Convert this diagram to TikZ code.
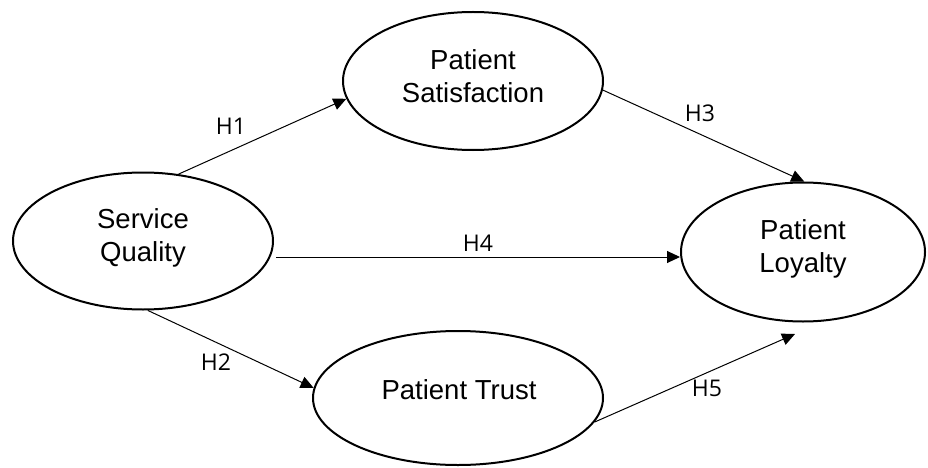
\documentclass[tikz,border=0pt]{standalone}
\usepackage{fontspec}
\setmainfont{Liberation Sans}
\newfontfamily\labfont{Open Sans}
\usetikzlibrary{shapes.geometric,arrows.meta}
\begin{document}
\begin{tikzpicture}[x=1pt,y=-1pt,
  construct/.style={draw, line width=2pt, ellipse, inner sep=0pt},
  ctext/.style={align=center, inner sep=0pt, font=\fontsize{27.5}{33}\selectfont},
  link/.style={line width=1pt, -{Triangle[length=13pt,width=12pt]}},
  hyp/.style={font=\labfont\fontsize{23}{26}\selectfont, inner sep=0pt}]
\useasboundingbox (0,0) rectangle (928,468);
\node[construct, minimum width=260pt, minimum height=137pt] (sq) at (143,241) {};
\node[construct, minimum width=260pt, minimum height=138pt] (ps) at (473,81) {};
\node[construct, minimum width=244pt, minimum height=139pt] (pl) at (803,252) {};
\node[construct, minimum width=290pt, minimum height=134pt] (pt) at (458,398) {};
\node[ctext] (sqt) at (143,238) {Service\\Quality};
\node[ctext] (pst) at (473,76) {Patient\\Satisfaction};
\node[ctext] (plt) at (803,249) {Patient\\Loyalty};
\node[ctext] (ptt) at (459,390) {Patient Trust};
\coordinate (h4s) at (276,257);
\coordinate (h5e) at (795,334);
\draw[link] (sq.62) -- (ps.188);
\draw[link] (ps.-4) -- (pl.89);
\draw[link] (h4s) -- (pl.west |- h4s);
\draw[link] (sq.-86) -- (pt.176);
\draw[link] (pt.-10) -- (h5e);
\node[hyp] (l1) at (231,126) {H1};
\node[hyp] (l3) at (700,113) {H3};
\node[hyp] (l4) at (478,243) {H4};
\node[hyp] (l2) at (216,362) {H2};
\node[hyp] (l5) at (707,388) {H5};
\end{tikzpicture}
\end{document}
